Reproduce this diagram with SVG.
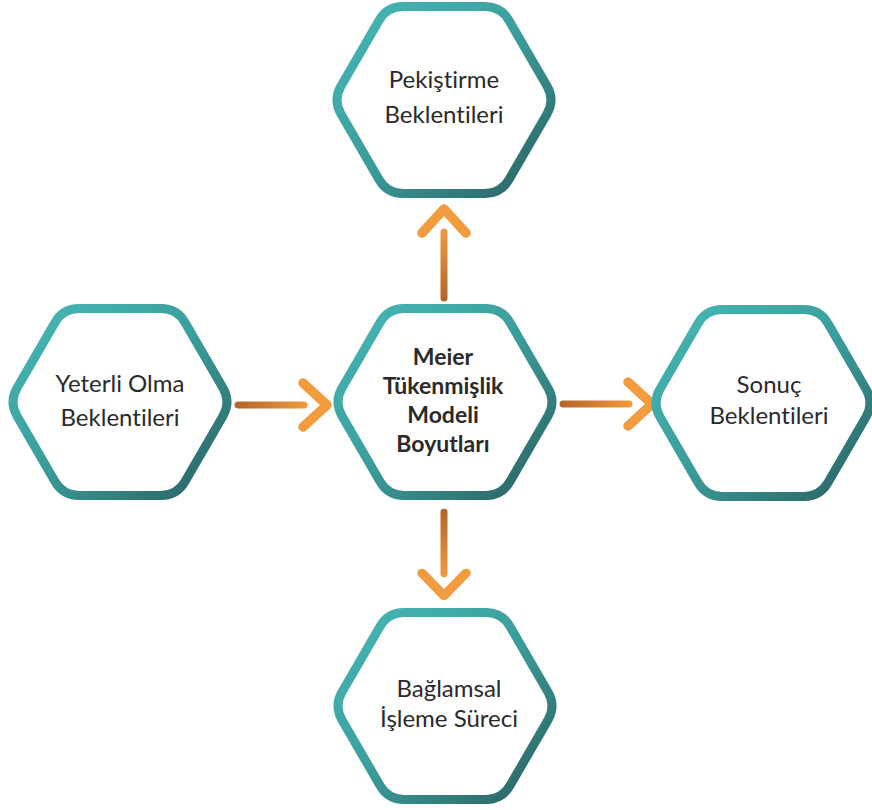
<svg xmlns="http://www.w3.org/2000/svg" xmlns:xlink="http://www.w3.org/1999/xlink" width="872" height="810" viewBox="0 0 872 810">
<style>
.hex{fill:#ffffff;stroke:url(#tealGrad);stroke-width:9}
.lbl{font-family:Lato,"Liberation Sans",sans-serif;font-size:24px;fill:#2a2a2a;text-anchor:middle;font-variant-ligatures:none}
.bold{font-weight:bold;font-size:23px}
.shaft{fill:none;stroke:url(#shaftGrad);stroke-width:7;stroke-linecap:round}
.head{fill:none;stroke:#f29b3f;stroke-width:9.5;stroke-linecap:round;stroke-linejoin:round}
</style>
<defs>
<linearGradient id="tealGrad" x1="0" y1="0" x2="1" y2="1">
<stop offset="0" stop-color="#46b8b5"/>
<stop offset="0.5" stop-color="#3a9d9b"/>
<stop offset="1" stop-color="#2a5f61"/>
</linearGradient>
<linearGradient id="shaftGrad" gradientUnits="userSpaceOnUse" x1="0" y1="0" x2="70" y2="0">
<stop offset="0" stop-color="#b4672a"/>
<stop offset="1" stop-color="#f29b3f"/>
</linearGradient>
<path id="hexShape" class="hex" d="M -103,-13.9 L -65,-79.6 Q -57,-93.5 -41,-93.5 L 41,-93.5 Q 57,-93.5 65,-79.6 L 103,-13.9 Q 111,0 103,13.9 L 65,79.6 Q 57,93.5 41,93.5 L -41,93.5 Q -57,93.5 -65,79.6 L -103,13.9 Q -111,0 -103,-13.9 Z"/>
<g id="arrowShape">
<path class="shaft" d="M0,0 H66"/>
<path class="head" d="M65,-22 L89,0 L65,22"/>
</g>
</defs>

<g id="connectors">
<use href="#arrowShape" transform="translate(238,405)"/>
<use href="#arrowShape" transform="translate(563,404)"/>
<use href="#arrowShape" transform="translate(444,298) rotate(-90)"/>
<use href="#arrowShape" transform="translate(444,512) rotate(90) scale(0.94,1)"/>
</g>

<g id="node-top" transform="translate(444,100)">
<use href="#hexShape"/>
<text class="lbl" x="0" y="-12">Pekiştirme</text>
<text class="lbl" x="0" y="23">Beklentileri</text>
</g>

<g id="node-left" transform="translate(120,402)">
<use href="#hexShape"/>
<text class="lbl" x="0" y="-10">Yeterli Olma</text>
<text class="lbl" x="0" y="24">Beklentileri</text>
</g>

<g id="node-center" transform="translate(445,402)">
<use href="#hexShape"/>
<text class="lbl bold" x="-2" y="-37">Meier</text>
<text class="lbl bold" x="-2" y="-8">Tükenmişlik</text>
<text class="lbl bold" x="-2" y="21">Modeli</text>
<text class="lbl bold" x="-2" y="50">Boyutları</text>
</g>

<g id="node-right" transform="translate(763,403)">
<use href="#hexShape"/>
<text class="lbl" x="6" y="-10">Sonuç</text>
<text class="lbl" x="6" y="21">Beklentileri</text>
</g>

<g id="node-bottom" transform="translate(445,706)">
<use href="#hexShape"/>
<text class="lbl" x="4" y="-9">Bağlamsal</text>
<text class="lbl" x="4" y="21">İşleme Süreci</text>
</g>
</svg>
